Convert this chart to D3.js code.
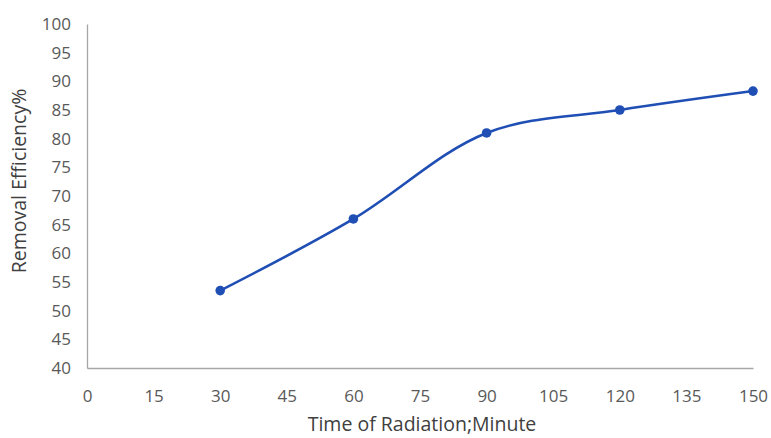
<!DOCTYPE html>
<meta charset="utf-8">
<style>
  body { margin: 0; background: #fff; }
  .axis text { font: 17px "Open Sans", sans-serif; fill: #595959; }
  .axis path { stroke: #a6a6a6; stroke-width: 1.3px; }
  .title { font-family: "Open Sans", sans-serif; fill: #404040; }
  .line { fill: none; stroke: #1f4eb4; stroke-width: 2.6px; }
  .dot { fill: #1f4eb4; }
</style>
<svg width="771" height="438"></svg>
<script src="https://d3js.org/d3.v7.min.js"></script>
<script>

  var times = [30, 60, 90, 120, 150];
  var efficiency = [53.5, 66, 81, 85, 88.3];
  var xTicks = [0, 15, 30, 45, 60, 75, 90, 105, 120, 135, 150];
  var yTicks = [40, 45, 50, 55, 60, 65, 70, 75, 80, 85, 90, 95, 100];

  var svg = d3.select("svg");

  var x = d3.scaleLinear().domain([0, 150]).range([87, 753]);
  var y = d3.scaleLinear().domain([40, 100]).range([368, 24]);

  svg.append("g")
      .attr("class", "axis")
      .attr("transform", "translate(0,368)")
      .call(d3.axisBottom(x).tickValues(xTicks).tickSize(0).tickPadding(22));

  svg.append("g")
      .attr("class", "axis")
      .attr("transform", "translate(87,0)")
      .call(d3.axisLeft(y).tickValues(yTicks).tickSize(0).tickPadding(16));

  var data = times.map(function(t, i) { return [t, efficiency[i]]; });

  var line = d3.line()
      .x(function(d) { return x(d[0]); })
      .y(function(d) { return y(d[1]); })
      .curve(d3.curveCatmullRom.alpha(0.5));

  svg.append("path")
      .datum(data)
      .attr("class", "line")
      .attr("d", line);

  svg.selectAll(".dot")
      .data(data)
      .enter().append("circle")
      .attr("class", "dot")
      .attr("cx", function(d) { return x(d[0]); })
      .attr("cy", function(d) { return y(d[1]); })
      .attr("r", 4.8);

  svg.append("text")
      .attr("class", "title")
      .attr("text-anchor", "middle")
      .style("font-size", "19.5px")
      .attr("x", 422)
      .attr("y", 431)
      .text("Time of Radiation;Minute");

  svg.append("text")
      .attr("class", "title")
      .attr("text-anchor", "middle")
      .style("font-size", "19.5px")
      .attr("transform", "translate(26,181) rotate(-90)")
      .text("Removal Efficiency%");

</script>
